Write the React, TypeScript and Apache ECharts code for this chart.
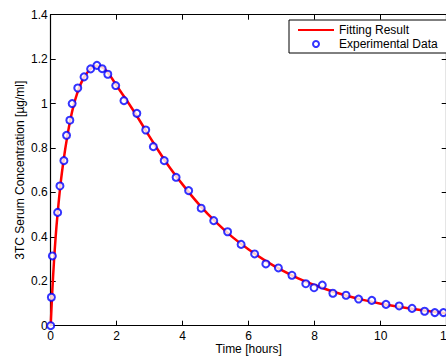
import React, { useEffect, useRef } from "react";
import * as echarts from "echarts";

// Experimental data (time in hours, concentration in µg/ml)
const expTime = [0, 0.02, 0.05, 0.21, 0.28, 0.4, 0.48, 0.58, 0.65, 0.82, 1.01, 1.21, 1.4, 1.56, 1.73, 1.97, 2.22, 2.61, 2.88, 3.11, 3.44, 3.8, 4.18, 4.56, 4.94, 5.36, 5.77, 6.18, 6.52, 6.9, 7.31, 7.73, 7.98, 8.23, 8.55, 8.95, 9.33, 9.73, 10.16, 10.56, 10.95, 11.33, 11.64, 11.9];
const expConc = [0, 0.128, 0.314, 0.51, 0.629, 0.743, 0.857, 0.925, 1.0, 1.07, 1.12, 1.156, 1.172, 1.157, 1.132, 1.081, 1.013, 0.956, 0.881, 0.806, 0.743, 0.668, 0.608, 0.529, 0.473, 0.423, 0.366, 0.323, 0.278, 0.26, 0.227, 0.189, 0.171, 0.183, 0.146, 0.137, 0.12, 0.114, 0.096, 0.089, 0.078, 0.065, 0.059, 0.059];

// Fitting curve
const fitTime = [0, 0.05, 0.1, 0.15, 0.2, 0.3, 0.4, 0.5, 0.6, 0.7, 0.8, 0.9, 1.0, 1.2, 1.4, 1.6, 1.8, 2.0, 2.5, 3.0, 3.5, 4.0, 4.5, 5.0, 5.5, 6.0, 6.5, 7.0, 7.5, 8.0, 8.5, 9.0, 9.5, 10.0, 10.5, 11.0, 11.5, 12.0];
const fitConc = [0, 0.16, 0.29, 0.4, 0.49, 0.64, 0.755, 0.85, 0.93, 0.995, 1.045, 1.085, 1.115, 1.155, 1.17, 1.16, 1.125, 1.08, 0.97, 0.85, 0.735, 0.635, 0.545, 0.467, 0.4, 0.343, 0.293, 0.25, 0.213, 0.183, 0.156, 0.134, 0.115, 0.099, 0.086, 0.075, 0.065, 0.056];

const xTitle = "Time [hours]";
const yTitle = "3TC Serum Concentration [\u00b5g/ml]";
const fitName = "Fitting Result";
const expName = "Experimental Data";

const FONT = "Liberation Sans, Arial, Helvetica, sans-serif";

export default function App() {
  const ref = useRef<HTMLDivElement>(null);
  useEffect(() => {
    if (!ref.current) return;
    document.body.style.margin = "0";
    const chart = echarts.init(ref.current, null, { renderer: "svg" });
    const axisCommon = {
      type: "value" as const,
      axisLine: { show: true, onZero: false, lineStyle: { color: "#000", width: 1.2 } },
      axisTick: { show: true, inside: true, length: 5, lineStyle: { color: "#000", width: 1 } },
      splitLine: { show: false },
    };
    chart.setOption({
      animation: false,
      textStyle: { fontFamily: FONT },
      grid: {
        left: 50.7,
        width: 396,
        top: 14.7,
        height: 311,
        containLabel: false,
        outerBoundsMode: "none",
      },
      legend: {
        show: true,
        orient: "vertical",
        left: 289,
        top: 20,
        data: [{ name: fitName, itemStyle: { opacity: 0 } }, { name: expName }],
        itemWidth: 36,
        itemHeight: 6,
        itemGap: 0,
        padding: [3, 9, 2, 8],
        borderColor: "#000",
        borderWidth: 1,
        borderRadius: 0,
        backgroundColor: "#fff",
        textStyle: { fontSize: 12, color: "#000", lineHeight: 14, fontFamily: FONT },
      },
      xAxis: [
        {
          ...axisCommon,
          min: 0,
          max: 12,
          interval: 2,
          position: "bottom",
          name: xTitle,
          nameLocation: "middle",
          nameGap: 17.5,
          nameMoveOverlap: false,
          nameTextStyle: { fontSize: 12, color: "#000", fontFamily: FONT },
          axisLabel: { fontSize: 12, color: "#000", margin: 4, fontFamily: FONT },
        },
        {
          ...axisCommon,
          min: 0,
          max: 12,
          interval: 2,
          position: "top",
          axisLabel: { show: false },
        },
      ],
      yAxis: [
        {
          ...axisCommon,
          min: 0,
          max: 1.4,
          interval: 0.2,
          position: "left",
          name: yTitle,
          nameLocation: "middle",
          nameGap: 24.5,
          nameMoveOverlap: false,
          nameTextStyle: { fontSize: 12, color: "#000", fontFamily: FONT },
          axisLabel: { fontSize: 12, color: "#000", margin: 3, fontFamily: FONT },
        },
        {
          ...axisCommon,
          min: 0,
          max: 1.4,
          interval: 0.2,
          position: "right",
          axisLabel: { show: false },
        },
      ],
      series: [
        {
          name: fitName,
          type: "line",
          data: fitTime.map((t, i) => [t, fitConc[i]]),
          showSymbol: false,
          symbol: "none",
          smooth: 0.4,
          lineStyle: { color: "#ff0000", width: 2.5 },
          itemStyle: { color: "#ff0000" },
          z: 2,
        },
        {
          name: expName,
          type: "scatter",
          data: expTime.map((t, i) => [t, expConc[i]]),
          symbol: "emptyCircle",
          symbolSize: 7,
          itemStyle: { color: "#0000ff", borderColor: "#0000ff", borderWidth: 2 },
          z: 3,
        },
      ],
    });
    return () => chart.dispose();
  }, []);
  return <div ref={ref} style={{ width: 446, height: 358, background: "#fff" }} />;
}
